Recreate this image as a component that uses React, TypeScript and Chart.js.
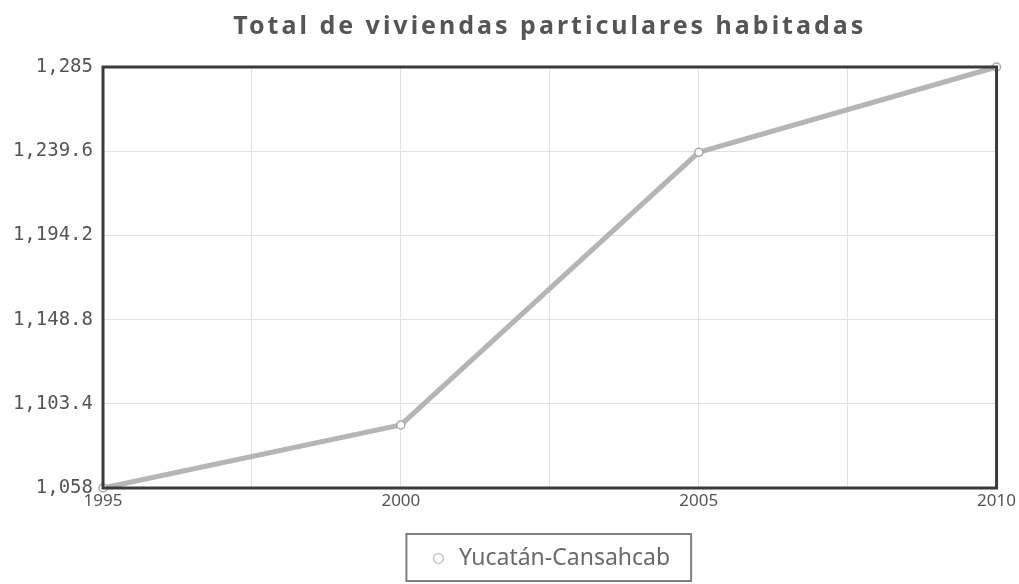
import React, { useEffect, useRef } from "react";
import { Chart, registerables } from "chart.js";

Chart.register(...registerables);

const TITLE = "Total de viviendas particulares habitadas";
const SERIES_LABEL = "Yucatán-Cansahcab";
const YEARS = [1995, 2000, 2005, 2010];
const VALUES = [1058, 1092, 1239, 1285];
const Y_TICKS = [1058, 1103.4, 1148.8, 1194.2, 1239.6, 1285];
const X_GRID = [1995, 1997.5, 2000, 2002.5, 2005, 2007.5, 2010];
const X_LABELED = [1995, 2000, 2005, 2010];

const framePlugin = {
  id: "frame",
  afterLayout(chart: any) {
    const { chartArea } = chart;
    const tb = chart.titleBlock;
    if (tb) {
      tb.left = chartArea.left;
      tb.right = chartArea.right;
      if (!tb.__spaced) {
        const orig = tb.draw;
        tb.draw = function (...args: any[]) {
          const ctx = chart.ctx;
          const prev = (ctx as any).letterSpacing;
          (ctx as any).letterSpacing = "3px";
          orig.apply(this, args);
          (ctx as any).letterSpacing = prev || "0px";
        };
        tb.__spaced = true;
      }
    }
    if (chart.legend) {
      chart.legend.left = chartArea.left;
      chart.legend.right = chartArea.right;
    }
  },
  afterDatasetsDraw(chart: any) {
    const { ctx, chartArea } = chart;
    ctx.save();
    ctx.strokeStyle = "#3a3a3a";
    ctx.lineWidth = 3;
    ctx.strokeRect(chartArea.left, chartArea.top, chartArea.right - chartArea.left, chartArea.bottom - chartArea.top);
    ctx.restore();
  },
  afterDraw(chart: any) {
    const legend = chart.legend;
    if (!legend || !legend.legendHitBoxes || !legend.legendHitBoxes.length) return;
    const hb = legend.legendHitBoxes[0];
    const { ctx } = chart;
    ctx.save();
    ctx.strokeStyle = "#808080";
    ctx.lineWidth = 2;
    ctx.strokeRect(hb.left - 23, hb.top - 13, hb.width + 44, hb.height + 24);
    ctx.restore();
  },
};

export default function App() {
  const ref = useRef<HTMLCanvasElement | null>(null);
  useEffect(() => {
    document.body.style.margin = "0";
    const canvas = ref.current!;
    const chart = new Chart(canvas, {
      type: "line",
      data: {
        datasets: [
          {
            label: SERIES_LABEL,
            data: YEARS.map((x, i) => ({ x, y: VALUES[i] })),
            borderColor: "#b5b5b5",
            borderWidth: 5,
            pointRadius: 4,
            pointBackgroundColor: "#ffffff",
            pointBorderColor: "#a8a8a8",
            pointBorderWidth: 1.5,
            tension: 0,
            clip: false as any,
          },
        ],
      },
      options: {
        animation: false,
        responsive: false,
        maintainAspectRatio: false,
        layout: { padding: { left: 0, right: 2, top: 0, bottom: 4 } },
        plugins: {
          title: {
            display: true,
            text: TITLE,
            color: "#555555",
            font: { family: "'Noto Sans'", size: 25, weight: "bold" },
            padding: { top: 12, bottom: 25 },
          },
          legend: {
            display: true,
            position: "bottom",
            labels: {
              usePointStyle: true,
              pointStyle: "circle",
              boxWidth: 18,
              boxHeight: 7,
              color: "#6a6a6a",
              padding: 14,
              font: { family: "'Noto Sans'", size: 23 },
              generateLabels: () => [
                {
                  text: SERIES_LABEL,
                  fillStyle: "#ffffff",
                  strokeStyle: "#c8c8c8",
                  lineWidth: 1.5,
                  pointStyle: "circle",
                  datasetIndex: 0,
                  fontColor: "#6a6a6a",
                },
              ],
            },
          },
          tooltip: { enabled: false },
        },
        scales: {
          x: {
            type: "linear",
            min: 1995,
            max: 2010,
            afterBuildTicks: (s: any) => {
              s.ticks = X_GRID.map((v) => ({ value: v }));
            },
            afterFit: (s: any) => {
              s.height = 45;
            },
            ticks: {
              autoSkip: false,
              maxRotation: 0,
              padding: 3,
              color: "#555555",
              font: { family: "'Noto Sans'", size: 17 },
              callback: (v: any) => (X_LABELED.includes(Number(v)) ? String(v) : ""),
            },
            grid: { color: "#e2e2e2", lineWidth: 1, drawTicks: false },
            border: { display: false },
          },
          y: {
            min: 1058,
            max: 1285,
            afterBuildTicks: (s: any) => {
              s.ticks = Y_TICKS.map((v) => ({ value: v }));
            },
            afterFit: (s: any) => {
              s.width = 103;
            },
            ticks: {
              autoSkip: false,
              padding: 10,
              color: "#555555",
              font: { family: "'DejaVu Sans Mono'", size: 19 },
              callback: (v: any) => Number(v).toLocaleString("en-US", { maximumFractionDigits: 1 }),
            },
            grid: { color: "#e2e2e2", lineWidth: 1, drawTicks: false },
            border: { display: false },
          },
        },
      },
      plugins: [framePlugin],
    } as any);
    return () => chart.destroy();
  }, []);
  return (
    <div style={{ width: 1019, height: 584, background: "#fff" }}>
      <canvas ref={ref} width={1019} height={584} style={{ display: "block" }} />
    </div>
  );
}
